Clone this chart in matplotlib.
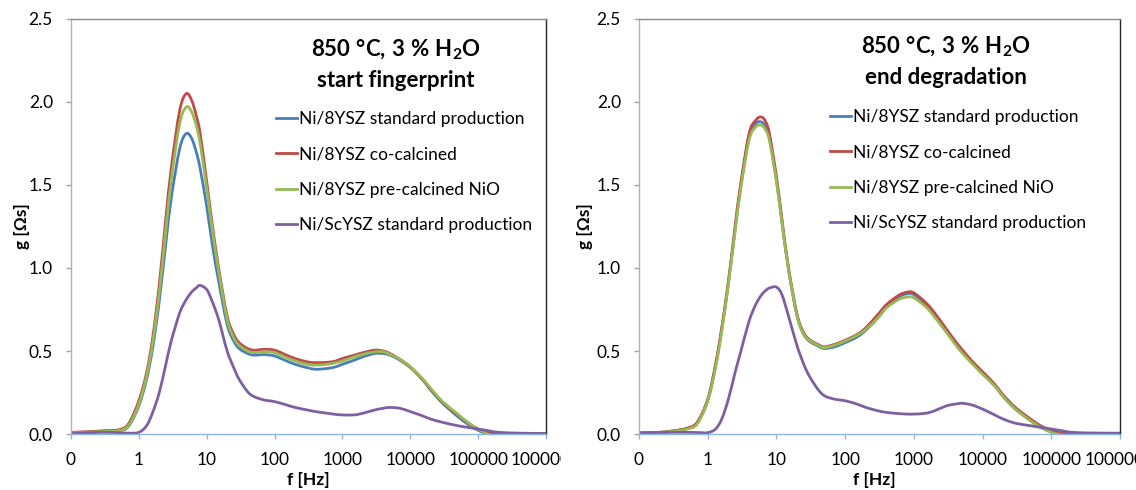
import numpy as np
import matplotlib
matplotlib.use("Agg")
import matplotlib.pyplot as plt
from matplotlib.path import Path
from matplotlib.patches import PathPatch
from matplotlib.lines import Line2D
from matplotlib.transforms import Bbox, TransformedBbox

plt.rcParams["font.family"] = ["Lato", "DejaVu Sans"]
plt.rcParams["mathtext.fontset"] = "custom"
plt.rcParams["mathtext.rm"] = "Lato:bold"
plt.rcParams["mathtext.it"] = "Lato:bold"
plt.rcParams["mathtext.bf"] = "Lato:bold"

# frequency grid [Hz]
freq = [0.1, 0.2, 0.3, 0.5, 0.7, 1, 1.3, 1.6, 2, 2.5, 3, 4, 5, 6, 7, 8, 10, 12, 15,
        20, 25, 30, 40, 50, 70, 100, 150, 200, 300, 400, 600, 800, 1000, 1500,
        2000, 3000, 4000, 5000, 7000, 10000, 15000, 20000, 30000, 50000, 70000,
        100000, 150000, 200000, 400000, 1000000]
nan = np.nan

series_names = ["Ni/8YSZ standard production", "Ni/8YSZ co-calcined",
                "Ni/8YSZ pre-calcined NiO", "Ni/ScYSZ standard production"]
series_colors = ["#4A7EBB", "#BE4B48", "#98B954", "#7D60A0"]

# start fingerprint, g [Ohm s]
start_std = [0.008, 0.012, 0.015, 0.02, 0.045, 0.17, 0.33, 0.52, 0.8, 1.15, 1.42, 1.72, 1.81, 1.78,
             1.7, 1.6, 1.37, 1.15, 0.92, 0.66, 0.56, 0.515, 0.485, 0.475, 0.478, 0.47, 0.44,
             0.42, 0.4, 0.39, 0.395, 0.405, 0.42, 0.445, 0.465, 0.485, 0.485, 0.475, 0.445,
             0.4, 0.33, 0.265, 0.185, 0.105, 0.06, 0.022, -0.01, nan, nan, nan]
start_cocal = [0.01, 0.015, 0.02, 0.025, 0.06, 0.2, 0.37, 0.58, 0.9, 1.3, 1.6, 1.95, 2.05, 2.01,
               1.92, 1.81, 1.52, 1.27, 1.0, 0.71, 0.6, 0.55, 0.515, 0.505, 0.51, 0.505, 0.475,
               0.455, 0.435, 0.43, 0.432, 0.44, 0.455, 0.475, 0.49, 0.505, 0.5, 0.485, 0.45,
               0.405, 0.33, 0.27, 0.19, 0.115, 0.07, 0.03, 0.01, 0.005, 0.003, 0.002]
start_precal = [0.008, 0.012, 0.015, 0.02, 0.05, 0.18, 0.35, 0.55, 0.85, 1.23, 1.53, 1.87, 1.97,
                1.94, 1.86, 1.75, 1.48, 1.24, 0.98, 0.69, 0.58, 0.535, 0.5, 0.49, 0.495, 0.49,
                0.46, 0.44, 0.42, 0.415, 0.42, 0.43, 0.44, 0.465, 0.48, 0.495, 0.495, 0.48, 0.45,
                0.405, 0.335, 0.275, 0.195, 0.12, 0.07, 0.03, -0.01, nan, nan, nan]
start_scysz = [0.005, 0.008, 0.01, 0.008, 0.005, 0.01, 0.05, 0.13, 0.25, 0.42, 0.56, 0.73, 0.81,
               0.855, 0.88, 0.895, 0.87, 0.8, 0.69, 0.5, 0.4, 0.33, 0.255, 0.225, 0.205, 0.195,
               0.175, 0.16, 0.145, 0.135, 0.125, 0.118, 0.115, 0.115, 0.125, 0.145, 0.155, 0.16,
               0.155, 0.135, 0.11, 0.09, 0.07, 0.05, 0.04, 0.03, 0.018, 0.01, 0.005, 0.003]

# end of degradation, g [Ohm s]
end_std = [0.005, 0.01, 0.017, 0.033, 0.065, 0.2, 0.41, 0.63, 0.91, 1.23, 1.48, 1.79, 1.87, 1.88,
           1.85, 1.77, 1.53, 1.28, 0.99, 0.71, 0.6, 0.56, 0.53, 0.515, 0.525, 0.55, 0.585,
           0.625, 0.7, 0.765, 0.825, 0.845, 0.84, 0.78, 0.72, 0.62, 0.55, 0.5, 0.43, 0.365,
           0.29, 0.225, 0.15, 0.08, 0.042, 0.012, -0.01, nan, nan, nan]
end_cocal = [0.005, 0.01, 0.018, 0.035, 0.07, 0.21, 0.42, 0.64, 0.92, 1.25, 1.5, 1.81, 1.89, 1.91,
             1.88, 1.8, 1.55, 1.3, 1.0, 0.72, 0.61, 0.57, 0.54, 0.525, 0.54, 0.565, 0.6, 0.64,
             0.72, 0.78, 0.835, 0.855, 0.85, 0.79, 0.73, 0.63, 0.56, 0.51, 0.44, 0.375, 0.3,
             0.235, 0.16, 0.09, 0.05, 0.02, 0.008, 0.005, 0.003, 0.002]
end_precal = [0.005, 0.01, 0.016, 0.03, 0.06, 0.2, 0.4, 0.62, 0.9, 1.22, 1.47, 1.77, 1.85, 1.86,
              1.83, 1.76, 1.52, 1.28, 0.99, 0.71, 0.6, 0.565, 0.535, 0.52, 0.535, 0.56, 0.595,
              0.63, 0.7, 0.76, 0.81, 0.825, 0.82, 0.765, 0.705, 0.61, 0.54, 0.49, 0.425, 0.36,
              0.29, 0.225, 0.15, 0.08, 0.04, 0.01, -0.01, nan, nan, nan]
end_scysz = [0.008, 0.009, 0.01, 0.01, 0.009, 0.008, 0.03, 0.09, 0.21, 0.37, 0.49, 0.68, 0.78,
             0.835, 0.865, 0.88, 0.885, 0.84, 0.71, 0.53, 0.42, 0.35, 0.27, 0.23, 0.21, 0.2,
             0.18, 0.16, 0.14, 0.13, 0.123, 0.12, 0.12, 0.125, 0.14, 0.17, 0.18, 0.185, 0.175,
             0.15, 0.115, 0.09, 0.065, 0.05, 0.04, 0.03, 0.018, 0.01, 0.006, 0.005]

x_ticks = [0.1, 1, 10, 100, 1000, 10000, 100000, 1000000]
y_ticks = [0.0, 0.5, 1.0, 1.5, 2.0, 2.5]


def smooth_path(x, y):
    """Smoothed-line path (Catmull-Rom Bezier segments in log-frequency space)."""
    x = np.asarray(x, float)
    y = np.asarray(y, float)
    ok = ~np.isnan(y)
    u, v = np.log10(x[ok]), y[ok]
    n = len(u)
    verts = [(u[0], v[0])]
    codes = [Path.MOVETO]
    for i in range(n - 1):
        i0, i3 = max(i - 1, 0), min(i + 2, n - 1)
        c1 = (u[i] + (u[i + 1] - u[i0]) / 6, v[i] + (v[i + 1] - v[i0]) / 6)
        c2 = (u[i + 1] - (u[i3] - u[i]) / 6, v[i + 1] - (v[i3] - v[i]) / 6)
        verts += [c1, c2, (u[i + 1], v[i + 1])]
        codes += [Path.CURVE4] * 3
    verts = np.array(verts)
    verts[:, 0] = 10 ** verts[:, 0]
    return Path(verts, codes)


panels = [
    {"rect": [71 / 1136, 56 / 490, 475 / 1136, 415 / 490],
     "data": [start_std, start_cocal, start_precal, start_scysz],
     "title": "start fingerprint",
     "title_x": 0.684, "title_y1": 0.911, "title_y2": 0.836,
     "leg_x": 0.432, "leg_y": 0.778,
     "ylabel_x": -0.103, "xlabel_x": 0.5},
    {"rect": [639 / 1136, 56 / 490, 481 / 1136, 415 / 490],
     "data": [end_std, end_cocal, end_precal, end_scysz],
     "title": "end degradation",
     "title_x": 0.638, "title_y1": 0.916, "title_y2": 0.843,
     "leg_x": 0.397, "leg_y": 0.783,
     "ylabel_x": -0.112, "xlabel_x": 0.49},
]

fig = plt.figure(figsize=(11.36, 4.90), dpi=100)
fs = 12.5
lw = 2.0
axes = []
for p in panels:
    ax = fig.add_axes(p["rect"])
    axes.append(ax)
    handles = []
    for vals, name, col in zip(p["data"], series_names, series_colors):
        ax.add_patch(PathPatch(smooth_path(freq, vals), fill=False, edgecolor=col,
                               lw=lw, capstyle="round", joinstyle="round"))
        handles.append(Line2D([], [], color=col, lw=lw, label=name))
    ax.set_xscale("log")
    ax.set_xlim(0.1, 1e6)
    ax.set_ylim(0, 2.5)
    ax.set_xticks(x_ticks)
    ax.set_xticklabels(["%d" % t for t in x_ticks])
    ax.minorticks_off()
    ax.set_yticks(y_ticks)
    ax.set_yticklabels(["%.1f" % t for t in y_ticks])
    ax.tick_params(axis="x", direction="out", length=3.6, width=1.0, color="#8EB4E3",
                   labelsize=fs, pad=9, labelcolor="black")
    ax.tick_params(axis="y", direction="out", length=3.6, width=1.0, color="#A6A6A6",
                   labelsize=fs, pad=9.4, labelcolor="black")
    ax.spines["left"].set_color("#B3B3B3")
    ax.spines["top"].set_color("#8C8C8C")
    ax.spines["right"].set_color("#262626")
    ax.spines["bottom"].set_color("#8EB4E3")
    for s in ax.spines.values():
        s.set_linewidth(1.0)
    ax.spines["bottom"].set_zorder(3)

    ax.set_ylabel("g [Ωs]", fontsize=fs, fontweight="bold")
    ax.yaxis.set_label_coords(p["ylabel_x"], 0.5)
    ax.yaxis.label.set_va("center")
    ax.set_xlabel("f [Hz]", fontsize=fs, fontweight="bold")
    ax.xaxis.set_label_coords(p["xlabel_x"], -0.111)
    ax.xaxis.label.set_va("center")

    ax.text(p["title_x"], p["title_y1"], r"$\mathrm{850\ °C{,}\ 3\ \%\ H_2O}$",
            transform=ax.transAxes, ha="center", va="baseline", fontsize=16)
    ax.text(p["title_x"], p["title_y2"], p["title"], transform=ax.transAxes,
            ha="center", va="baseline", fontsize=16, fontweight="bold")

    ax.legend(handles=handles, loc="upper left", bbox_to_anchor=(p["leg_x"], p["leg_y"]),
              frameon=False, fontsize=fs, handlelength=1.2, handletextpad=0.1,
              labelspacing=1.12, borderpad=0, borderaxespad=0)

fig.canvas.draw()
# the last frequency label of the first panel is cut at the panel boundary
clip = TransformedBbox(Bbox.from_extents(0, 0, 561 / 1136, 1), fig.transFigure)
lab = axes[0].xaxis.get_major_ticks()[-1].label1
lab.set_clip_box(clip)
lab.set_clip_on(True)

fig.savefig("out.png", dpi=100, facecolor="white")
